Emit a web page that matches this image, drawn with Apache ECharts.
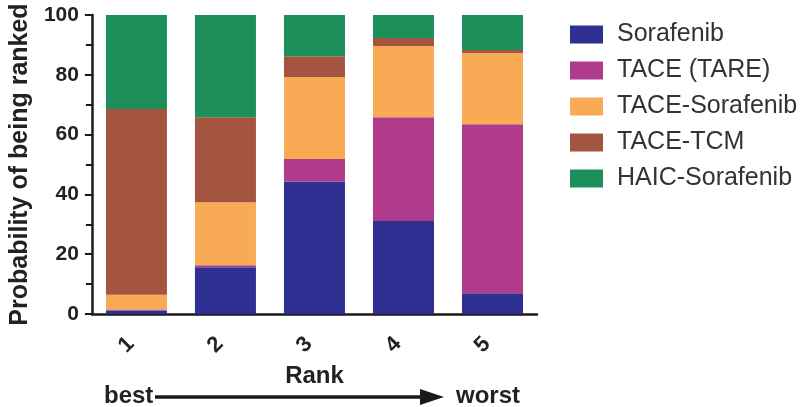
<!DOCTYPE html>
<html>
<head>
<meta charset="utf-8">
<script src="https://cdn.jsdelivr.net/npm/echarts@6/dist/echarts.min.js"></script>
<style>html,body{margin:0;padding:0;background:#fff}#c{width:800px;height:407px}</style>
</head>
<body>
<div id="c"></div>
<script>
const categories = ['1', '2', '3', '4', '5'];
const seriesNames = ['Sorafenib', 'TACE (TARE)', 'TACE-Sorafenib', 'TACE-TCM', 'HAIC-Sorafenib'];
const sorafenib = [1.2, 15.6, 44.3, 31.1, 6.9];
const taceTare = [0.3, 0.7, 7.5, 34.7, 56.6];
const taceSorafenib = [4.9, 21.1, 27.5, 23.8, 23.8];
const taceTcm = [62.2, 28.4, 6.9, 2.7, 1.0];
const haicSorafenib = [31.4, 34.2, 13.8, 7.7, 11.7];
const colors = ['#2E3192', '#B03A8B', '#F8AA55', '#A4553F', '#1D8F5B'];

const dataSets = [sorafenib, taceTare, taceSorafenib, taceTcm, haicSorafenib];
const FONT = '"Liberation Sans", Arial, Helvetica, sans-serif';

const chart = echarts.init(document.getElementById('c'), null, {renderer: 'canvas'});
chart.setOption({
  animation: false,
  backgroundColor: '#ffffff',
  color: colors,
  grid: {left: 84, right: 263, top: 15, bottom: 93, containLabel: false},
  legend: {
    orient: 'vertical',
    left: 565,
    top: 17,
    itemWidth: 33,
    itemHeight: 18,
    itemGap: 11,
    icon: 'rect',
    data: seriesNames,
    textStyle: {fontFamily: FONT, fontSize: 25, color: '#333', lineHeight: 24, padding: [0, 0, 0, 9]}
  },
  xAxis: {
    type: 'category',
    data: categories,
    name: 'Rank',
    nameLocation: 'middle',
    nameGap: 48,
    nameTextStyle: {fontFamily: FONT, fontSize: 24, fontWeight: 'bold', color: '#222'},
    axisLine: {lineStyle: {color: '#1a1a1a', width: 2.5}},
    axisTick: {alignWithLabel: true, length: 9, lineStyle: {color: '#1a1a1a', width: 2}},
    axisLabel: {rotate: 45, margin: 21, padding: [0, 8, 0, 0], fontFamily: FONT, fontSize: 22, fontWeight: 'bold', color: '#222'}
  },
  yAxis: {
    type: 'value',
    min: 0, max: 100, interval: 20,
    name: 'Probability of being ranked',
    nameLocation: 'middle',
    nameGap: 57,
    nameTextStyle: {fontFamily: FONT, fontSize: 25, fontWeight: 'bold', color: '#222'},
    axisLine: {show: true, lineStyle: {color: '#1a1a1a', width: 2.5}},
    axisTick: {show: true, length: 7, lineStyle: {color: '#1a1a1a', width: 2}},
    minorTick: {show: true, splitNumber: 2, length: 6, lineStyle: {color: '#1a1a1a', width: 2}},
    splitLine: {show: false},
    axisLabel: {margin: 13, fontFamily: FONT, fontSize: 21, fontWeight: 'bold', color: '#222'}
  },
  series: seriesNames.map((n, i) => ({
    name: n,
    type: 'bar',
    stack: 'total',
    barWidth: 61,
    data: dataSets[i],
    itemStyle: {color: colors[i]}
  })),
  graphic: [
    {type: 'text', left: 104, top: 384, style: {text: 'best', font: 'bold 24px ' + FONT, fill: '#222'}},
    {type: 'line', shape: {x1: 155, y1: 397, x2: 424, y2: 397}, style: {stroke: '#1a1a1a', lineWidth: 3.5}},
    {type: 'polygon', shape: {points: [[420, 389], [444, 397], [420, 405]]}, style: {fill: '#1a1a1a'}},
    {type: 'text', left: 456, top: 384, style: {text: 'worst', font: 'bold 24px ' + FONT, fill: '#222'}}
  ]
});
</script>
</body>
</html>
